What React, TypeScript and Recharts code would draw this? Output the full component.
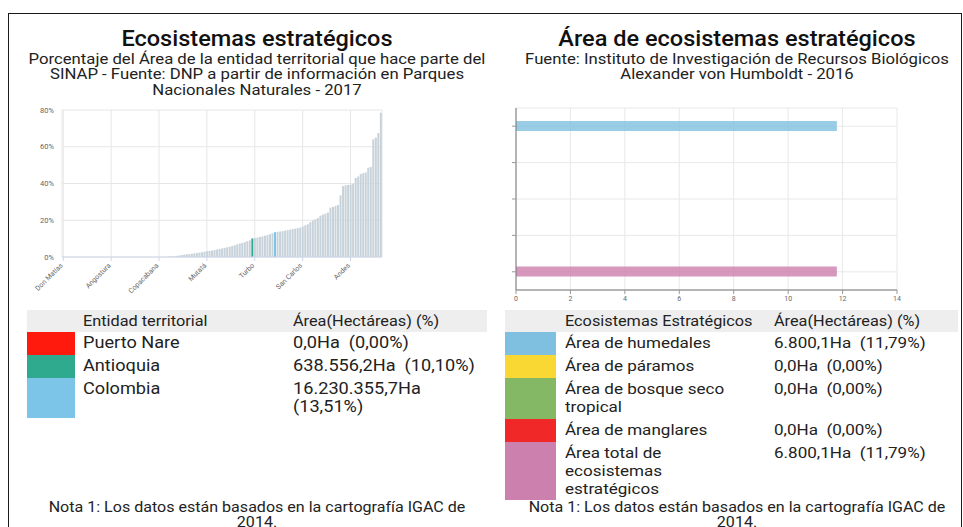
import React from "react";
import { BarChart, Bar, XAxis, YAxis, CartesianGrid, Cell } from "recharts";

// municipios ordenados por % del área en el SINAP
const municipios = [
  "Don Matías", "Abejorral", "Abriaquí", "Alejandría", "Amagá", "Angelópolis", "Apartadó", "Arboletes",
  "Barbosa", "Bello", "Belmira", "Betania", "Caldas", "Caramanta", "Carepa", "Chigorodó", "Cisneros",
  "Envigado", "Girardota", "Angostura", "Guarne", "Hispania", "Itagüí", "Jardín", "La Ceja", "Puerto Nare",
  "La Estrella", "La Pintada", "Marinilla", "Medellín", "Necoclí", "Sabaneta", "San Juan de Urabá",
  "San Pedro de Urabá", "Santa Bárbara", "Tarso", "Titiribí", "Venecia", "Copacabana", "Amalfi", "Anorí",
  "Anzá", "Argelia", "Armenia", "Betulia", "Briceño", "Buriticá", "Cáceres", "Caicedo", "Campamento",
  "Cañasgordas", "Caracolí", "Carolina del Príncipe", "Caucasia", "Ciudad Bolívar", "Cocorná", "Concepción",
  "Mutatá", "Concordia", "Dabeiba", "Ebéjico", "El Bagre", "El Carmen de Viboral", "El Santuario",
  "Entrerríos", "Fredonia", "Frontino", "Giraldo", "Gómez Plata", "Granada", "Guadalupe", "Guatapé",
  "Heliconia", "Ituango", "Jericó", "Antioquia", "Turbo", "La Unión", "Liborina", "Maceo", "Montebello",
  "Murindó", "Nariño", "Nechí", "Colombia", "Olaya", "El Peñol", "Peque", "Pueblorrico", "Puerto Berrío",
  "Puerto Triunfo", "Remedios", "El Retiro", "Rionegro", "Sabanalarga", "San Carlos", "Salgar",
  "San Andrés de Cuerquia", "San Francisco", "San Jerónimo", "San José de la Montaña", "San Luis",
  "San Pedro de los Milagros", "San Rafael", "San Roque", "San Vicente", "Santa Rosa de Osos",
  "Santa Fe de Antioquia", "Santo Domingo", "Segovia", "Sonsón", "Sopetrán", "Támesis", "Tarazá", "Andes",
  "Toledo", "Uramita", "Urrao", "Valdivia", "Valparaíso", "Vegachí", "Vigía del Fuerte", "Yalí", "Yarumal",
  "Yolombó", "Yondó", "Zaragoza",
];

const sinapPct = [
  0, 0, 0, 0, 0, 0, 0, 0, 0, 0, 0, 0, 0, 0, 0, 0, 0, 0, 0, 0, 0, 0, 0, 0, 0, 0, 0, 0, 0, 0, 0, 0, 0, 0, 0,
  0, 0, 0, 0, 0, 0, 0, 0.2, 0.3, 0.4, 0.6, 0.8, 1.1, 1.3, 1.5, 1.6, 1.8, 2.0, 2.2, 2.4, 2.6, 2.9, 3.1, 3.3,
  3.5, 3.8, 4.1, 4.4, 4.7, 5.0, 5.3, 5.6, 6.0, 6.4, 6.9, 7.3, 7.7, 8.1, 8.6, 9.1, 10.1, 10.3, 10.6, 10.9,
  11.2, 11.6, 12.0, 12.4, 12.9, 13.51, 13.7, 13.9, 14.1, 14.3, 14.6, 14.9, 15.2, 15.4, 15.7, 16.0, 16.6,
  17.2, 17.8, 19.0, 19.8, 20.5, 21.2, 22.5, 23.1, 23.6, 24.2, 26.8, 27.2, 27.8, 28.3, 33.5, 38.6, 39.0,
  39.2, 39.4, 39.8, 43.0, 43.8, 45.2, 45.6, 46.0, 48.6, 49.0, 64.0, 65.0, 67.5, 78.5,
];

const tickMunicipios = ["Don Matías", "Angostura", "Copacabana", "Mutatá", "Turbo", "San Carlos", "Andes"];
const pctTicks = [0, 20, 40, 60, 80];

const entidades = ["Puerto Nare", "Antioquia", "Colombia"];
const entidadColores = ["#ff1a0d", "#2faa8e", "#7cc4e8"];
const entidadArea = ["0,0Ha  (0,00%)", "638.556,2Ha  (10,10%)", "16.230.355,7Ha  (13,51%)"];

const ecosistemas = [
  "Área de humedales",
  "Área de páramos",
  "Área de bosque seco tropical",
  "Área de manglares",
  "Área total de ecosistemas estratégicos",
];
const ecosistemaPct = [11.79, 0, 0, 0, 11.79];
const ecosistemaColores = ["#7fc0e0", "#f9d833", "#85b865", "#f02828", "#cc80ad"];
const ecosistemaArea = ["6.800,1Ha  (11,79%)", "0,0Ha  (0,00%)", "0,0Ha  (0,00%)", "0,0Ha  (0,00%)", "6.800,1Ha  (11,79%)"];
const hectTicks = [0, 2, 4, 6, 8, 10, 12, 14];

const municipioData = municipios.map((name, i) => ({ name, pct: sinapPct[i] }));
const ecoData = ecosistemas.map((name, i) => ({ name, pct: ecosistemaPct[i] }));

// the source text is a little wider than Roboto
const SX = 1.1;

const barColor = (name: string) => {
  const i = entidades.indexOf(name);
  return i >= 0 ? entidadColores[i] : "#c7d2da";
};

const AngledTick = (props: any) => {
  const { x, y, payload } = props;
  return (
    <text
      x={x}
      y={y + 3}
      transform={`rotate(-45 ${x} ${y + 3})`}
      textAnchor="end"
      fontSize={7}
      fill="#666"
    >
      {payload.value}
    </text>
  );
};

function Cell2({ left, top, width, fontSize, lineHeight, nowrap, children }: any) {
  return (
    <div
      style={{
        position: "absolute",
        left,
        top,
        width: width / SX,
        fontSize,
        lineHeight: `${lineHeight}px`,
        color: "#222",
        whiteSpace: nowrap ? "pre" : "pre-wrap",
        transform: `scaleX(${SX})`,
        transformOrigin: "left top",
      }}
    >
      {children}
    </div>
  );
}

function Tabla({ left, width, swatch, col1, col1w, col2, title, names, colors, values, heights, fontSize }: any) {
  let top = 332;
  return (
    <>
      <div style={{ position: "absolute", left, top: 310, width, height: 22, background: "#eeeeee" }}>
        <Cell2 left={col1} top={0} width={col1w} fontSize={14.8} lineHeight={22} nowrap>{title}</Cell2>
        <Cell2 left={col2} top={0} width={width - col2} fontSize={14.8} lineHeight={22} nowrap>Área(Hectáreas) (%)</Cell2>
      </div>
      {names.map((n: string, i: number) => {
        const t = top;
        top += heights[i];
        return (
          <div key={n} style={{ position: "absolute", left, top: t, width, height: heights[i] }}>
            <div style={{ position: "absolute", left: 0, top: 0, width: swatch, height: heights[i], background: colors[i] }} />
            <Cell2 left={col1} top={2} width={col1w} fontSize={fontSize} lineHeight={18}>{n}</Cell2>
            <Cell2 left={col2} top={2} width={width - col2 + 2} fontSize={fontSize} lineHeight={18}>{values[i]}</Cell2>
          </div>
        );
      })}
    </>
  );
}

const centered = (left: number, width: number, top: number, fontSize: number, lineHeight: number, weight = 400): React.CSSProperties => ({
  position: "absolute",
  left,
  width,
  top,
  textAlign: "center",
  fontSize,
  fontWeight: weight,
  lineHeight: `${lineHeight}px`,
  color: weight > 400 ? "#111" : "#222",
  whiteSpace: "nowrap",
  transform: `scaleX(${SX})`,
  transformOrigin: "center top",
});

export default function App() {
  return (
    <div style={{ position: "relative", width: 963, height: 527, overflow: "hidden", background: "#fff", fontFamily: "Roboto, sans-serif" }}>
      <style>{"body{margin:0}"}</style>
      <div style={{ position: "absolute", left: 8, top: 13, width: 952, height: 530, borderTop: "1.5px solid #1a1a1a", borderLeft: "1.5px solid #1a1a1a", borderRight: "1.5px solid #1a1a1a" }} />

      <div style={centered(8, 498, 27, 21.4, 24, 500)}>Ecosistemas estratégicos</div>
      <div style={centered(8, 498, 52, 15.2, 15.3)}>
        Porcentaje del Área de la entidad territorial que hace parte del
        <br />
        SINAP - Fuente: DNP a partir de información en Parques
        <br />
        Nacionales Naturales - 2017
      </div>

      <div style={centered(512, 450, 27, 21.4, 24, 500)}>Área de ecosistemas estratégicos</div>
      <div style={centered(512, 450, 52, 15.2, 15.3)}>
        Fuente: Instituto de Investigación de Recursos Biológicos
        <br />
        Alexander von Humboldt - 2016
      </div>

      <div style={{ position: "absolute", left: 20, top: 100 }}>
        <BarChart width={370} height={200} data={municipioData} margin={{ top: 10, right: 8, left: 0, bottom: 0 }} barCategoryGap="15%">
          <CartesianGrid stroke="#e6e6e6" />
          <XAxis
            dataKey="name"
            ticks={tickMunicipios}
            interval={0}
            height={43}
            tick={<AngledTick />}
            axisLine={{ stroke: "#ccd6eb" }}
            tickLine={{ stroke: "#ccd6eb" }}
            tickSize={4}
          />
          <YAxis
            width={42}
            domain={[0, 80]}
            ticks={pctTicks}
            tickFormatter={(v) => `${v}%`}
            axisLine={false}
            tickLine={false}
            tick={{ fontSize: 7.5, fill: "#666" }}
          />
          <Bar dataKey="pct" isAnimationActive={false}>
            {municipioData.map((d) => (
              <Cell key={d.name} fill={barColor(d.name)} />
            ))}
          </Bar>
        </BarChart>
      </div>

      <div style={{ position: "absolute", left: 495, top: 100 }}>
        <BarChart layout="vertical" width={420} height={210} data={ecoData} margin={{ top: 8, right: 18, left: 0, bottom: 0 }} barSize={10}>
          <CartesianGrid stroke="#e8e8e8" />
          <XAxis
            type="number"
            domain={[0, 14]}
            ticks={hectTicks}
            interval={0}
            height={20}
            tick={{ fontSize: 7, fill: "#666" }}
            axisLine={{ stroke: "#777" }}
            tickLine={{ stroke: "#999" }}
            tickSize={4}
          />
          <YAxis
            type="category"
            dataKey="name"
            width={21}
            tick={() => <g />}
            axisLine={{ stroke: "#777" }}
            tickLine={{ stroke: "#999" }}
            tickSize={4}
          />
          <Bar dataKey="pct" isAnimationActive={false}>
            {ecoData.map((d, i) => (
              <Cell key={d.name} fill={ecosistemaColores[i]} fillOpacity={0.8} />
            ))}
          </Bar>
        </BarChart>
      </div>

      <Tabla
        left={27}
        width={460}
        swatch={48}
        col1={56}
        col1w={205}
        col2={266}
        title="Entidad territorial"
        names={entidades}
        colors={entidadColores}
        values={entidadArea}
        heights={[23, 23, 40]}
        fontSize={16.5}
      />
      <Tabla
        left={505}
        width={453}
        swatch={51}
        col1={60}
        col1w={187}
        col2={269}
        title="Ecosistemas Estratégicos"
        names={ecosistemas}
        colors={ecosistemaColores}
        values={ecosistemaArea}
        heights={[23, 23, 41, 23, 58]}
        fontSize={15.5}
      />

      <div style={centered(8, 498, 500, 14.6, 15)}>
        Nota 1: Los datos están basados en la cartografía IGAC de
        <br />
        2014.
      </div>
      <div style={centered(512, 450, 500, 14.6, 15)}>
        Nota 1: Los datos están basados en la cartografía IGAC de
        <br />
        2014.
      </div>
    </div>
  );
}
